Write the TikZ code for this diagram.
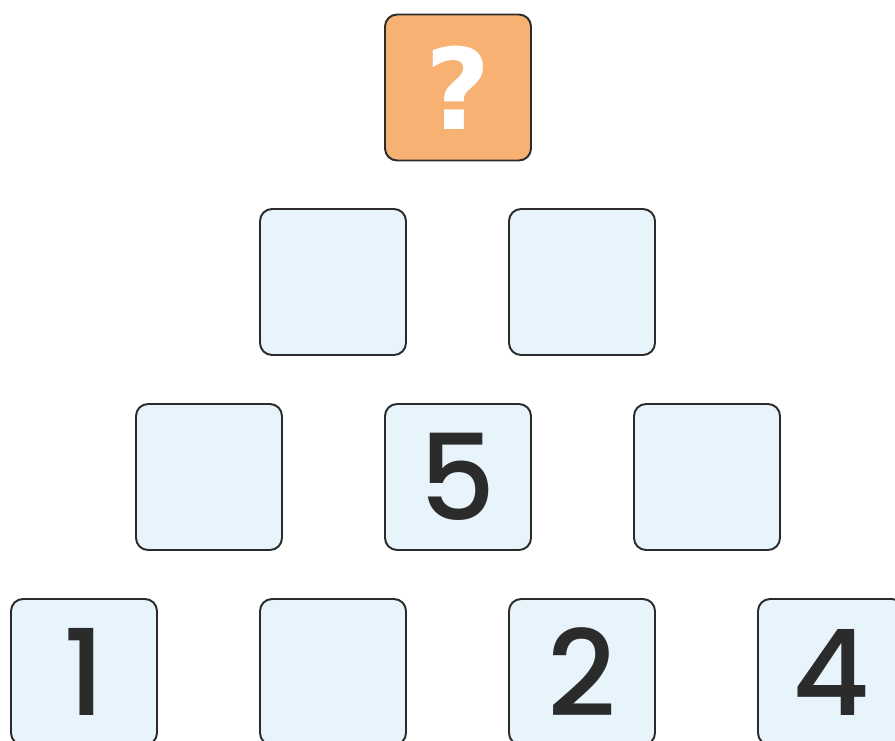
\documentclass[tikz,border=0pt]{standalone}
\usepackage{fontspec}
\setmainfont{Poppins}[UprightFont=* Medium]
\newfontfamily\qfont{DejaVu Sans}
\usetikzlibrary{positioning}
\definecolor{TileBlue}{RGB}{232, 244, 252}
\definecolor{TileOrange}{RGB}{247, 177, 114}
\definecolor{TileEdge}{RGB}{43, 43, 43}

\begin{document}
\begin{tikzpicture}[
    x=0.02cm, y=-0.02cm,
    tile/.style={rectangle, draw=TileEdge, fill=TileBlue, rounded corners=0.24cm, line width=1.1pt, minimum width=2.92cm, minimum height=2.92cm, inner sep=0pt, text=TileEdge, font=\fontsize{68}{76}\selectfont},
    goal/.style={tile, fill=TileOrange, text=white, font=\qfont\bfseries\fontsize{64}{72}\selectfont}
  ]
    \useasboundingbox (0,0) rectangle (895,740);

    % Top
    \node[goal] (top) at (458,87.5) {?};

    % Second row
    \node[tile] (b1) at (333,282) {};
    \node[tile] (b2) at (582,282) {};

    % Third row
    \node[tile] (c1) at (209,477) {};
    \node[tile] (c2) at (458,477) {5};
    \node[tile] (c3) at (707,477) {};

    % Base row
    \node[tile] (d1) at (84,672) {1};
    \node[tile] (d2) at (333,672) {};
    \node[tile] (d3) at (582,672) {2};
    \node[tile] (d4) at (831,672) {4};
  \end{tikzpicture}
\end{document}
